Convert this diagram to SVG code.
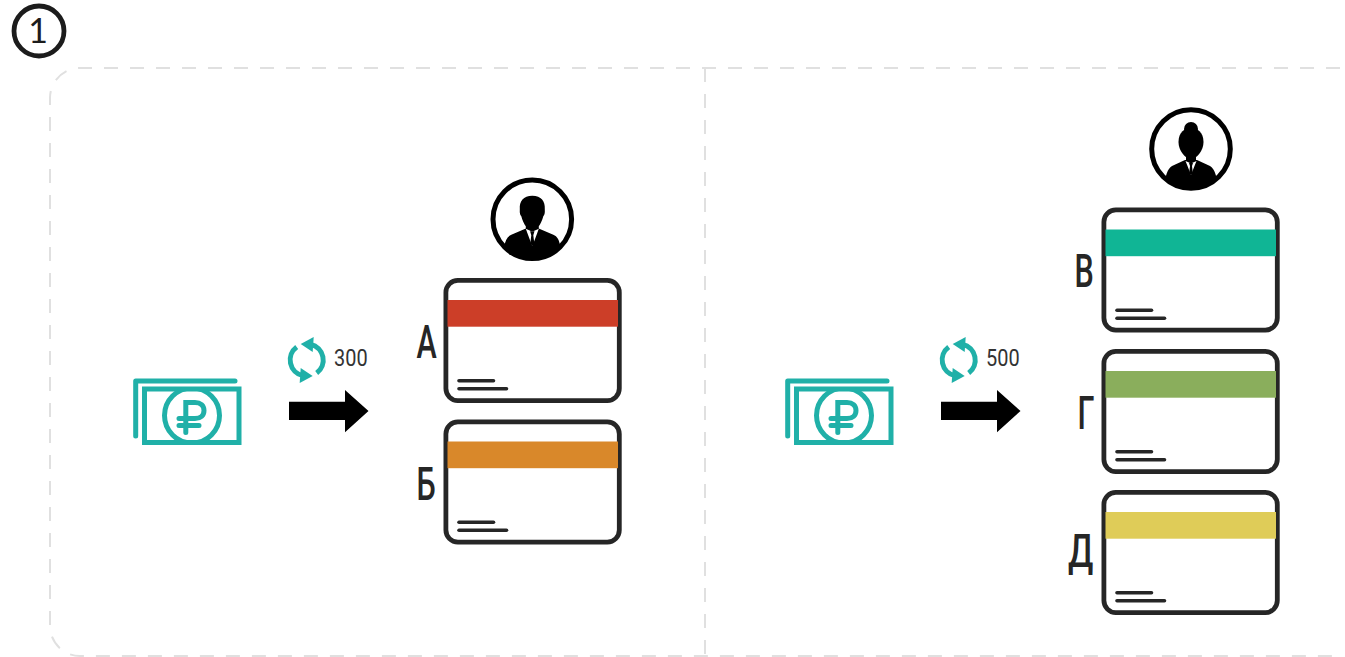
<svg xmlns="http://www.w3.org/2000/svg" width="1345" height="657" viewBox="0 0 1345 657">
<style>
.dash{fill:none;stroke:#e0e0e0;stroke-width:2;stroke-dasharray:14 12}
.card{fill:#fff;stroke:#262626;stroke-width:4.8}
.ln{stroke:#262626;stroke-width:3.6;stroke-linecap:round}
.lbl{font-family:Roboto,"Liberation Sans",sans-serif;font-size:47px;font-weight:500;fill:#262626}
.num{font-family:Roboto,"Liberation Sans",sans-serif;font-size:24px;fill:#333}
.tl{fill:none;stroke:#20b0a8;stroke-width:5}
.ring{fill:#fff;stroke:#000;stroke-width:5}
</style>
<defs>
<clipPath id="in"><circle r="38"/></clipPath>
<clipPath id="note"><rect x="142" y="387" width="99" height="58"/></clipPath>
<g id="card"><rect class="card" x="2.400" y="2.400" width="173.400" height="120.200" rx="12"/></g>
<g id="lines"><line class="ln" x1="15.500" y1="102.700" x2="50" y2="102.700"/><line class="ln" x1="15.500" y1="110.700" x2="63" y2="110.700"/></g>
<g id="money">
<path class="tl" stroke-linecap="round" stroke-linejoin="round" d="M135.700 436V381H235"/>
<rect class="tl" x="144.500" y="389" width="94.500" height="53.500"/>
<circle class="tl" cx="192" cy="415.500" r="27.500" clip-path="url(#note)"/>
<path class="tl" stroke-linecap="round" d="M185.800 432.500V402.500H195C200.500 402.500 204 405.500 204 410.500C204 415.500 200.500 418.500 195 418.500H179M179 425.500H199"/>
</g>
<g id="cyc">
<path class="tl" d="M4 -15.500A16 16 0 0 1 10 13"/><path class="tl" d="M-4 15.500A16 16 0 0 1 -10 -13"/>
<polygon fill="#20b0a8" points="-6,-16 7,-23 6,-8"/><polygon fill="#20b0a8" points="6,16 -7,23 -6,8"/>
</g>
<polygon id="arr" points="289,401.700 345,401.700 345,390 368.500,411 345,432.300 345,420 289,420" fill="#000"/>
</defs>
<rect width="1345" height="657" fill="#fff"/>

<g id="connectors">
<path class="dash" d="M1340 68H80A30 30 0 0 0 50 98V626A30 30 0 0 0 80 656H1340"/>
<line class="dash" x1="705" y1="68" x2="705" y2="656"/>
<use href="#arr"/>
<use href="#arr" x="652"/>
</g>

<g id="badge"><circle cx="39" cy="31" r="25" fill="#fff" stroke="#1c1c1c" stroke-width="4.800"/>
<text x="38" y="43" font-family="Lato,'Open Sans',sans-serif" font-weight="400" font-size="34" fill="#1c1c1c" text-anchor="middle">1</text></g>

<g id="money-left"><use href="#money"/></g>
<g id="money-right"><use href="#money" x="652"/></g>

<g id="rate-left"><use href="#cyc" x="306.700" y="360"/><text class="num" transform="translate(334 366) scale(.83 1)">300</text></g>
<g id="rate-right"><use href="#cyc" x="958.700" y="360"/><text class="num" transform="translate(986 366) scale(.83 1)">500</text></g>

<g id="person-man" transform="translate(532.300 219.300)">
<circle class="ring" r="39.300"/>
<g clip-path="url(#in)">
<path d="M-28 40V27C-27 21 -25 17 -21 15.500L-7 9.500H7L21 15.500C25 17 27 21 28 27V40Z"/>
<path d="M-12.500 -10C-13 -18 -9 -23.500 0 -23.500C9 -23.500 13 -18 12.500 -10C12.800 -6 12 -4 11 -3C10 1 8 5 6.500 7V11H-6.500V7C-8 5 -10 1 -11 -3C-12 -4 -12.800 -6 -12.500 -10Z"/>
<path fill="#fff" d="M-6.500 9.500L-1 12H1L6.500 9.500L4.500 15L0 27L-4.500 15Z"/>
<path d="M-2.200 12H2.200L1 16L2 24L0 27L-2 24L-1 16Z"/>
</g>
</g>
<g id="card-a"><use href="#card" x="443.500" y="278"/><rect x="447.500" y="300" width="170.500" height="26.700" fill="#cc3e28"/><use href="#lines" x="443.500" y="278"/>
<text class="lbl" transform="translate(416.500 357.500) scale(.65 1)">А</text></g>
<g id="card-b"><use href="#card" x="443.500" y="419.500"/><rect x="447.500" y="441.500" width="170.500" height="26.700" fill="#d9882a"/><use href="#lines" x="443.500" y="419.500"/>
<text class="lbl" transform="translate(416.500 499.500) scale(.65 1)">Б</text></g>

<g id="person-woman" transform="translate(1191 149)">
<circle class="ring" r="39.300"/>
<g clip-path="url(#in)">
<path d="M-27 40C-26 28 -24 20 -19 17L-6 11H6L19 17C24 20 26 28 27 40Z"/>
<circle cy="-20" r="7"/>
<path d="M-12.500 -7C-12.500 -17 -6 -21 0 -21C6 -21 12.500 -17 12.500 -7C12.500 2 6 9 0 10.500C-6 9 -12.500 2 -12.500 -7Z"/>
<path d="M-5 4H5V13H-5Z"/>
<path fill="#fff" d="M-5.500 12L-1 14H1L5.500 12L3.500 17L0 26L-3.500 17Z"/>
<path d="M-2 14H2L1 17L1.800 24L0 26L-1.800 24L-1 17Z"/>
</g>
</g>
<g id="card-v"><use href="#card" x="1101.500" y="207.500"/><rect x="1105.500" y="229.500" width="170.500" height="26.700" fill="#10b595"/><use href="#lines" x="1101.500" y="207.500"/>
<text class="lbl" transform="translate(1074.500 286.500) scale(.65 1)">В</text></g>
<g id="card-g"><use href="#card" x="1101.500" y="349"/><rect x="1105.500" y="371" width="170.500" height="26.700" fill="#8aae5c"/><use href="#lines" x="1101.500" y="349"/>
<text class="lbl" transform="translate(1077.500 428.500) scale(.65 1)">Г</text></g>
<g id="card-d"><use href="#card" x="1101.500" y="490"/><rect x="1105.500" y="512" width="170.500" height="26.700" fill="#dfcc58"/><use href="#lines" x="1101.500" y="490"/>
<text class="lbl" transform="translate(1068 566.500) scale(.72 1)">Д</text></g>
</svg>
